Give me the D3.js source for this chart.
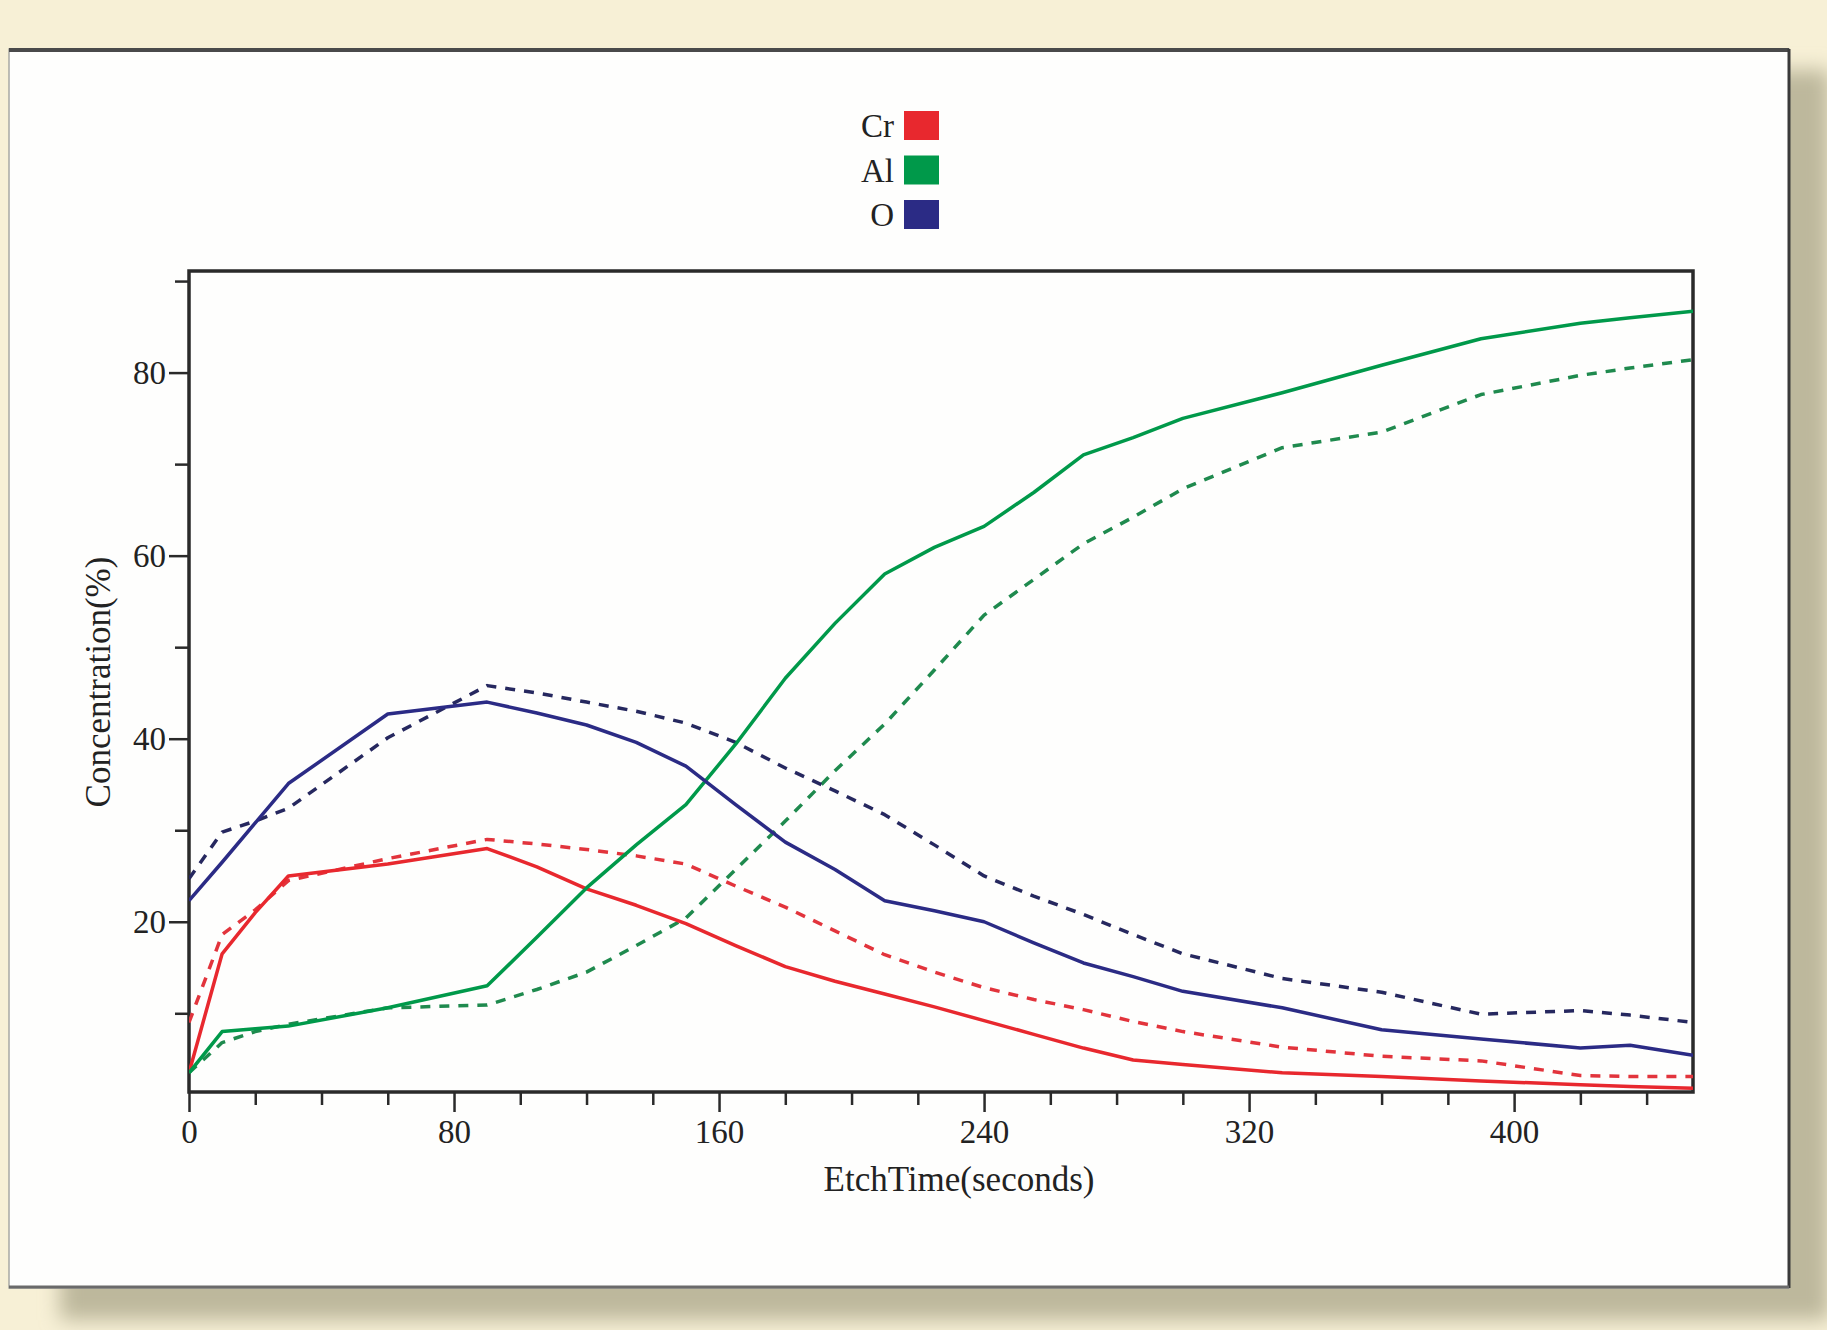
<!DOCTYPE html>
<html>
<head>
<meta charset="utf-8">
<script src="https://cdn.jsdelivr.net/npm/d3@7"></script>
<style>
  html, body { margin: 0; padding: 0; background: #f7f0d6; }
  svg { display: block; }
  text { font-family: 'Liberation Serif', 'Times New Roman', serif; fill: #222; }
</style>
</head>
<body>
<svg id="chart"></svg>
<script>
// etch time (s) where each profile was read
const etchTime = [0, 10, 20, 30, 60, 90, 105, 120, 135, 150, 165, 180, 195, 210, 225,
  240, 255, 270, 285, 300, 330, 360, 390, 420, 435, 454];

// solid = first profile, dashed = second profile
const crSolid = [3.5, 16.5, 21, 25, 26.3, 28, 26, 23.6, 21.8, 19.8, 17.4, 15.1, 13.5, 12.1, 10.7,
  9.2, 7.7, 6.2, 4.9, 4.4, 3.5, 3.1, 2.6, 2.2, 2.0, 1.8];
const crDashed = [9, 18.6, 21.3, 24.5, 26.9, 29, 28.5, 27.9, 27.2, 26.3, 23.9, 21.6, 19.0, 16.4, 14.5,
  12.8, 11.5, 10.4, 9.1, 8.0, 6.3, 5.3, 4.8, 3.2, 3.1, 3.1];
const alSolid = [3.5, 8.0, 8.3, 8.6, 10.6, 13, 18.3, 23.7, 28.4, 32.8, 39.4, 46.6, 52.6, 58.0, 60.9,
  63.2, 66.9, 71.0, 72.9, 75.0, 77.8, 80.8, 83.7, 85.4, 86.0, 86.7];
const alDashed = [3.5, 6.8, 8.0, 8.8, 10.6, 10.9, 12.6, 14.5, 17.4, 20.4, 25.7, 31.0, 36.5, 41.6, 47.5,
  53.5, 57.4, 61.3, 64.2, 67.3, 71.8, 73.5, 77.6, 79.7, 80.5, 81.4];
const oSolid = [22.3, 26.5, 30.8, 35.1, 42.7, 44.0, 42.8, 41.5, 39.6, 37.0, 32.8, 28.7, 25.7, 22.3, 21.2,
  20.0, 17.7, 15.5, 14.0, 12.4, 10.6, 8.2, 7.2, 6.2, 6.5, 5.4];
const oDashed = [24.7, 29.8, 31.0, 32.4, 40.1, 45.8, 45.0, 44.0, 43.0, 41.7, 39.6, 36.8, 34.3, 31.7, 28.4,
  25.0, 22.8, 20.8, 18.6, 16.5, 13.8, 12.3, 9.9, 10.3, 9.8, 9.0];

const elements = ['Cr', 'Al', 'O'];
const elementColors = ['#e8282e', '#00994a', '#2b2b85'];
const dashedColors = ['#e2343c', '#1f8a4e', '#26285f'];

const xTicks = [0, 80, 160, 240, 320, 400];
const xMinorTicks = [20, 40, 60, 100, 120, 140, 180, 200, 220, 260, 280, 300, 340, 360, 380, 420, 440];
const yTicks = [20, 40, 60, 80];
const yMinorTicks = [10, 30, 50, 70, 90];

const WIDTH = 1827;
const HEIGHT = 1330;
const PLOT = { left: 189, right: 1693, top: 271, bottom: 1092 };

const svg = d3.select('#chart').attr('width', WIDTH).attr('height', HEIGHT);

// page background + panel with drop shadow
svg.append('rect').attr('width', WIDTH).attr('height', HEIGHT).attr('fill', '#f7f0d6');

const defs = svg.append('defs');
defs.append('filter').attr('id', 'blur').attr('x', '-10%').attr('y', '-10%')
  .attr('width', '120%').attr('height', '120%')
  .append('feGaussianBlur').attr('stdDeviation', 10);
defs.append('clipPath').attr('id', 'plotClip')
  .append('rect')
  .attr('x', PLOT.left).attr('y', PLOT.top)
  .attr('width', PLOT.right - PLOT.left).attr('height', PLOT.bottom - PLOT.top);

svg.append('rect')
  .attr('x', 60).attr('y', 70).attr('width', 1770).attr('height', 1250)
  .attr('fill', '#bdb89c').attr('filter', 'url(#blur)');

svg.append('rect')
  .attr('x', 9).attr('y', 49).attr('width', 1780).attr('height', 1239)
  .attr('fill', '#fefefd').attr('stroke', '#a8a8a4').attr('stroke-width', 1.5);
// heavier top / right / bottom edges of the panel
svg.append('line').attr('x1', 9).attr('x2', 1789).attr('y1', 50).attr('y2', 50)
  .attr('stroke', '#4a4a4a').attr('stroke-width', 4);
svg.append('line').attr('x1', 1789).attr('x2', 1789).attr('y1', 49).attr('y2', 1288)
  .attr('stroke', '#3a3a3a').attr('stroke-width', 3);
svg.append('line').attr('x1', 9).attr('x2', 1789).attr('y1', 1287).attr('y2', 1287)
  .attr('stroke', '#6a6a6a').attr('stroke-width', 3);

// scales
const x = d3.scaleLinear().domain([0, 454]).range([PLOT.left, PLOT.right]);
const y = d3.scaleLinear().domain([1.4, 91.1]).range([PLOT.bottom, PLOT.top]);

// axes
const styleAxis = (g) => {
  g.select('.domain').remove();
  g.selectAll('.tick line').attr('stroke', '#2a2a2a').attr('stroke-width', 2.5);
  g.selectAll('.tick text').style('font-family', "'Liberation Serif', 'Times New Roman', serif")
    .style('font-size', '33px').attr('fill', '#222');
};

svg.append('g')
  .attr('transform', `translate(0, ${PLOT.bottom})`)
  .call(d3.axisBottom(x).tickValues(xTicks).tickSize(20).tickPadding(8).tickFormat(d3.format('d')))
  .call(styleAxis);
svg.append('g')
  .attr('transform', `translate(0, ${PLOT.bottom})`)
  .call(d3.axisBottom(x).tickValues(xMinorTicks).tickSize(13).tickFormat(''))
  .call(styleAxis);

svg.append('g')
  .attr('transform', `translate(${PLOT.left}, 0)`)
  .call(d3.axisLeft(y).tickValues(yTicks).tickSize(20).tickPadding(3).tickFormat(d3.format('d')))
  .call(styleAxis);
svg.append('g')
  .attr('transform', `translate(${PLOT.left}, 0)`)
  .call(d3.axisLeft(y).tickValues(yMinorTicks).tickSize(14).tickFormat(''))
  .call(styleAxis);

// plot frame
svg.append('rect')
  .attr('x', PLOT.left).attr('y', PLOT.top)
  .attr('width', PLOT.right - PLOT.left).attr('height', PLOT.bottom - PLOT.top)
  .attr('fill', 'none').attr('stroke', '#2a2a2a').attr('stroke-width', 3.5);

// series
const series = [
  { values: crDashed, color: dashedColors[0], dashed: true },
  { values: alDashed, color: dashedColors[1], dashed: true },
  { values: oDashed, color: dashedColors[2], dashed: true },
  { values: crSolid, color: elementColors[0], dashed: false },
  { values: alSolid, color: elementColors[1], dashed: false },
  { values: oSolid, color: elementColors[2], dashed: false },
];

const line = d3.line()
  .x((d) => x(d[0]))
  .y((d) => y(d[1]));

const lines = svg.append('g').attr('clip-path', 'url(#plotClip)');
lines.selectAll('.series')
  .data(series)
  .enter()
  .append('path')
  .classed('series', true)
  .attr('d', (s) => line(etchTime.map((t, i) => [t, s.values[i]])))
  .attr('fill', 'none')
  .attr('stroke', (s) => s.color)
  .attr('stroke-width', 3.5)
  .attr('stroke-linejoin', 'round')
  .attr('stroke-dasharray', (s) => (s.dashed ? '10,9' : null));

// axis titles
svg.append('text')
  .attr('x', 959).attr('y', 1191)
  .attr('text-anchor', 'middle')
  .style('font-size', '35px')
  .text('EtchTime(seconds)');

svg.append('text')
  .attr('transform', 'translate(110, 682) rotate(-90)')
  .attr('text-anchor', 'middle')
  .style('font-size', '35px')
  .text('Concentration(%)');

// legend
const legend = svg.append('g').selectAll('.legend')
  .data(elements)
  .enter()
  .append('g')
  .attr('transform', (d, i) => `translate(904, ${111 + i * 44.5})`);

legend.append('rect')
  .attr('width', 35).attr('height', 29)
  .attr('fill', (d, i) => elementColors[i]);

legend.append('text')
  .attr('x', -10).attr('y', 26)
  .attr('text-anchor', 'end')
  .style('font-size', '33px')
  .text((d) => d);
</script>
</body>
</html>
